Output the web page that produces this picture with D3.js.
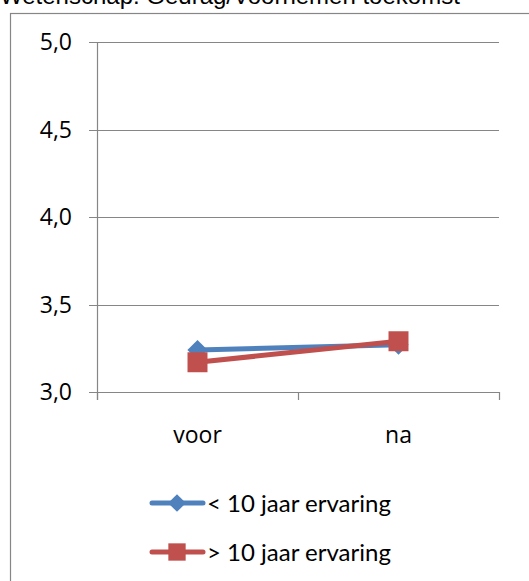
<!DOCTYPE html>
<html>
<head>
<meta charset="utf-8">
<script src="https://cdn.jsdelivr.net/npm/d3@7"></script>
<style>
  body { margin: 0; background: #fff; }
  svg { display: block; }
</style>
</head>
<body>
<svg id="chart" width="529" height="581"></svg>
<script>
    // data
    const title = "Wetenschap: Gedrag/Voornemen toekomst";
    const categories = ["voor", "na"];
    const seriesNames = ["< 10 jaar ervaring", "> 10 jaar ervaring"];
    const lessThan10 = [3.24, 3.27];
    const moreThan10 = [3.17, 3.29];
    const yTicks = [3.0, 3.5, 4.0, 4.5, 5.0];

    const colors = ["#4F81BD", "#C0504D"];
    const shapes = [d3.symbolDiamond2, d3.symbolSquare];
    const series = [lessThan10, moreThan10];

    const svg = d3.select("#chart");
    const gridColor = "#868686";

    // outer chart frame (runs past the window on the right/bottom)
    svg.append("rect")
        .attr("x", 10.5).attr("y", 13.5)
        .attr("width", 600).attr("height", 700)
        .attr("fill", "none")
        .attr("stroke", gridColor)
        .attr("stroke-width", 1.2);

    // title, cut off at the top like in the original
    svg.append("text")
        .attr("x", 0).attr("y", 4)
        .attr("font-family", "Liberation Sans, Arial, sans-serif")
        .attr("font-size", 24)
        .attr("fill", "#000")
        .text(title);

    const x = d3.scaleBand().domain(categories).range([97, 499]);
    const y = d3.scaleLinear().domain([3, 5]).range([392, 42]);

    // gridlines
    svg.append("g")
        .selectAll("line")
        .data(yTicks)
        .join("line")
        .attr("x1", 89).attr("x2", 499)
        .attr("y1", d => Math.round(y(d)) + 0.5)
        .attr("y2", d => Math.round(y(d)) + 0.5)
        .attr("stroke", gridColor)
        .attr("stroke-width", 1.2);

    // y axis line
    svg.append("line")
        .attr("x1", 97.5).attr("x2", 97.5)
        .attr("y1", y(5)).attr("y2", 400)
        .attr("stroke", gridColor)
        .attr("stroke-width", 1.2);

    // x tick marks on band edges
    const edges = categories.map(c => x(c)).concat([x.range()[1]]);
    svg.append("g")
        .selectAll("line")
        .data(edges)
        .join("line")
        .attr("x1", d => Math.round(d) + 0.5).attr("x2", d => Math.round(d) + 0.5)
        .attr("y1", y(3)).attr("y2", 400)
        .attr("stroke", gridColor)
        .attr("stroke-width", 1.2);

    // y labels
    svg.append("g")
        .selectAll("text")
        .data(yTicks)
        .join("text")
        .attr("x", 72)
        .attr("y", d => y(d))
        .attr("dy", "0.36em")
        .attr("text-anchor", "end")
        .attr("font-family", "Open Sans, sans-serif")
        .attr("font-size", 23)
        .text(d => d.toFixed(1).replace(".", ","));

    // x labels
    svg.append("g")
        .selectAll("text")
        .data(categories)
        .join("text")
        .attr("x", d => x(d) + x.bandwidth() / 2)
        .attr("y", 443)
        .attr("text-anchor", "middle")
        .attr("font-family", "Open Sans, sans-serif")
        .attr("font-size", 23)
        .text(d => d);

    const line = d3.line()
        .x((d, i) => x(categories[i]) + x.bandwidth() / 2)
        .y(d => y(d));

    series.forEach((vals, s) => {
        const g = svg.append("g");
        g.append("path")
            .datum(vals)
            .attr("d", line)
            .attr("fill", "none")
            .attr("stroke", colors[s])
            .attr("stroke-width", 5)
            .attr("stroke-linejoin", "round");
        g.selectAll("path.marker")
            .data(vals)
            .join("path")
            .attr("class", "marker")
            .attr("transform", (d, i) => "translate(" + (x(categories[i]) + x.bandwidth() / 2) + "," + y(d) + ")")
            .attr("d", d3.symbol().type(shapes[s]).size(s === 0 ? 260 : 400))
            .attr("fill", colors[s]);
    });

    // legend
    const legend = svg.append("g")
        .selectAll("g")
        .data(seriesNames)
        .join("g")
        .attr("transform", (d, i) => "translate(0," + (503 + i * 49) + ")");

    legend.append("line")
        .attr("x1", 152).attr("x2", 203)
        .attr("stroke", (d, i) => colors[i])
        .attr("stroke-width", 5)
        .attr("stroke-linecap", "round");

    legend.append("path")
        .attr("transform", "translate(177,0)")
        .attr("d", (d, i) => d3.symbol().type(shapes[i]).size(i === 0 ? 200 : 300)())
        .attr("fill", (d, i) => colors[i]);

    legend.append("text")
        .attr("x", 207)
        .attr("y", 0)
        .attr("dy", "0.36em")
        .attr("font-family", "Lato, sans-serif")
        .attr("font-size", 24)
        .text(d => d);
</script>
</body>
</html>
